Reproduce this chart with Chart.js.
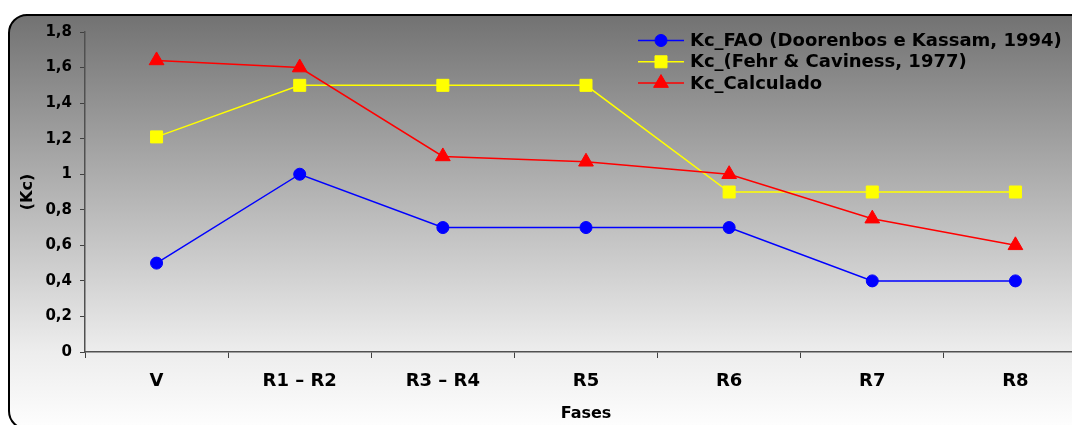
<!DOCTYPE html>
<html>
<head>
<meta charset="utf-8">
<script src="https://cdn.jsdelivr.net/npm/chart.js@4/dist/chart.umd.min.js"></script>
<style>
  html, body { margin: 0; padding: 0; background: #fff; overflow: hidden; }
  #wrap { width: 1072px; height: 425px; overflow: hidden; position: relative; }
  canvas { display: block; }
</style>
</head>
<body>
<div id="wrap"><canvas id="c" width="1100" height="425"></canvas></div>
<script>
// Growth stages (x categories)
const fases = ['V', 'R1 – R2', 'R3 – R4', 'R5', 'R6', 'R7', 'R8'];

// Crop coefficient series
const kcFao = [0.5, 1.0, 0.7, 0.7, 0.7, 0.4, 0.4];
const kcFehr = [1.21, 1.5, 1.5, 1.5, 0.9, 0.9, 0.9];
const kcCalculado = [1.64, 1.6, 1.1, 1.07, 1.0, 0.75, 0.6];

const seriesNames = [
  'Kc_FAO (Doorenbos e Kassam, 1994)',
  'Kc_(Fehr & Caviness, 1977)',
  'Kc_Calculado'
];

// Y axis tick labels (decimal comma)
const yTickLabels = ['0', '0,2', '0,4', '0,6', '0,8', '1', '1,2', '1,4', '1,6', '1,8'];

const FONT = "'DejaVu Sans', 'Liberation Sans', sans-serif";

// Rounded frame with a vertical grey-to-white gradient behind the chart
const framePlugin = {
  id: 'frame',
  beforeDraw(chart) {
    const ctx = chart.ctx;
    ctx.save();
    ctx.fillStyle = '#ffffff';
    ctx.fillRect(0, 0, chart.width, chart.height);
    const x = 9, y = 15, w = 1120, h = 414, r = 18;
    ctx.beginPath();
    ctx.roundRect(x, y, w, h, r);
    const g = ctx.createLinearGradient(0, 15, 0, 425);
    g.addColorStop(0, '#727272');
    g.addColorStop((200 - 15) / 410, '#b6b6b6');
    g.addColorStop((352 - 15) / 410, '#ededed');
    g.addColorStop(1, '#fdfdfd');
    ctx.fillStyle = g;
    ctx.fill();
    ctx.lineWidth = 2;
    ctx.strokeStyle = '#000000';
    ctx.stroke();
    ctx.restore();
  }
};

function drawMarker(ctx, style, radius, x, y) {
  if (Chart.helpers && Chart.helpers.drawPoint) {
    Chart.helpers.drawPoint(ctx, { pointStyle: style, radius: radius, rotation: 0, borderWidth: 1 }, x, y);
    return;
  }
  ctx.beginPath();
  if (style === 'circle') {
    ctx.arc(x, y, radius, 0, Math.PI * 2);
  } else if (style === 'rect') {
    const s = radius * Math.SQRT1_2;
    ctx.rect(x - s, y - s, 2 * s, 2 * s);
  } else {
    ctx.moveTo(x, y - radius);
    ctx.lineTo(x + radius * Math.sin(Math.PI / 3), y + radius / 2);
    ctx.lineTo(x - radius * Math.sin(Math.PI / 3), y + radius / 2);
    ctx.closePath();
  }
  ctx.fill();
  ctx.stroke();
}

// Legend in the upper-right corner, built from the dataset styles
const legendPlugin = {
  id: 'cornerLegend',
  afterDraw(chart) {
    const ctx = chart.ctx;
    ctx.save();
    chart.data.datasets.forEach((ds, i) => {
      const yy = 40.5 + i * 21.3;
      ctx.strokeStyle = ds.borderColor;
      ctx.lineWidth = ds.borderWidth;
      ctx.beginPath();
      ctx.moveTo(638, yy);
      ctx.lineTo(684, yy);
      ctx.stroke();
      ctx.fillStyle = ds.pointBackgroundColor;
      ctx.strokeStyle = ds.pointBorderColor;
      ctx.lineWidth = 1;
      drawMarker(ctx, ds.pointStyle, ds.pointRadius, 661, yy);
      ctx.fillStyle = '#000000';
      ctx.font = 'bold 18px ' + FONT;
      ctx.textAlign = 'left';
      ctx.textBaseline = 'middle';
      ctx.fillText(ds.label, 690, yy + 1);
    });
    ctx.restore();
  }
};

const ctx = document.getElementById('c').getContext('2d');

new Chart(ctx, {
  type: 'line',
  data: {
    labels: fases,
    datasets: [
      {
        label: seriesNames[0],
        data: kcFao,
        borderColor: '#0000ff',
        backgroundColor: '#0000ff',
        pointBackgroundColor: '#0000ff',
        pointBorderColor: '#0000ff',
        pointStyle: 'circle',
        pointRadius: 6,
        pointBorderWidth: 1,
        borderWidth: 1.5,
        tension: 0,
        order: 2
      },
      {
        label: seriesNames[1],
        data: kcFehr,
        borderColor: '#ffff00',
        backgroundColor: '#ffff00',
        pointBackgroundColor: '#ffff00',
        pointBorderColor: '#ffff00',
        pointStyle: 'rect',
        pointRadius: 8.5,
        pointBorderWidth: 1,
        borderWidth: 1.5,
        tension: 0,
        order: 1
      },
      {
        label: seriesNames[2],
        data: kcCalculado,
        borderColor: '#ff0000',
        backgroundColor: '#ff0000',
        pointBackgroundColor: '#ff0000',
        pointBorderColor: '#ff0000',
        pointStyle: 'triangle',
        pointRadius: 8.5,
        pointBorderWidth: 1,
        borderWidth: 1.5,
        tension: 0,
        order: 0
      }
    ]
  },
  options: {
    responsive: false,
    animation: false,
    devicePixelRatio: 1,
    layout: { padding: { left: 0, top: 32, right: 13, bottom: 0 } },
    plugins: {
      legend: { display: false },
      tooltip: { enabled: false },
      title: { display: false }
    },
    scales: {
      x: {
        type: 'category',
        offset: true,
        grid: {
          offset: true,
          drawOnChartArea: false,
          drawTicks: true,
          tickLength: 6,
          color: '#404040',
          lineWidth: 1
        },
        border: { display: true, color: '#505050', width: 1.5 },
        ticks: {
          color: '#000000',
          padding: 13,
          maxRotation: 0,
          autoSkip: false,
          font: { family: FONT, size: 18, weight: 'bold' }
        },
        title: {
          display: true,
          text: 'Fases',
          color: '#000000',
          font: { family: FONT, size: 16, weight: 'bold' },
          padding: { top: 0, bottom: 2 }
        },
        afterFit(scale) { scale.height = 73; }
      },
      y: {
        min: 0,
        max: 1.8,
        ticks: {
          stepSize: 0.2,
          color: '#000000',
          padding: 8,
          font: { family: FONT, size: 15, weight: 'bold' },
          callback: (value, index) => yTickLabels[index]
        },
        grid: {
          drawOnChartArea: false,
          drawTicks: true,
          tickLength: 5,
          color: '#404040',
          lineWidth: 1
        },
        border: { display: true, color: '#505050', width: 1.5 },
        title: {
          display: true,
          text: '(Kc)',
          color: '#000000',
          font: { family: FONT, size: 16, weight: 'bold' },
          padding: { top: 18, bottom: 0 }
        },
        afterFit(scale) { scale.width = 85; }
      }
    }
  },
  plugins: [framePlugin, legendPlugin]
});
</script>
</body>
</html>
